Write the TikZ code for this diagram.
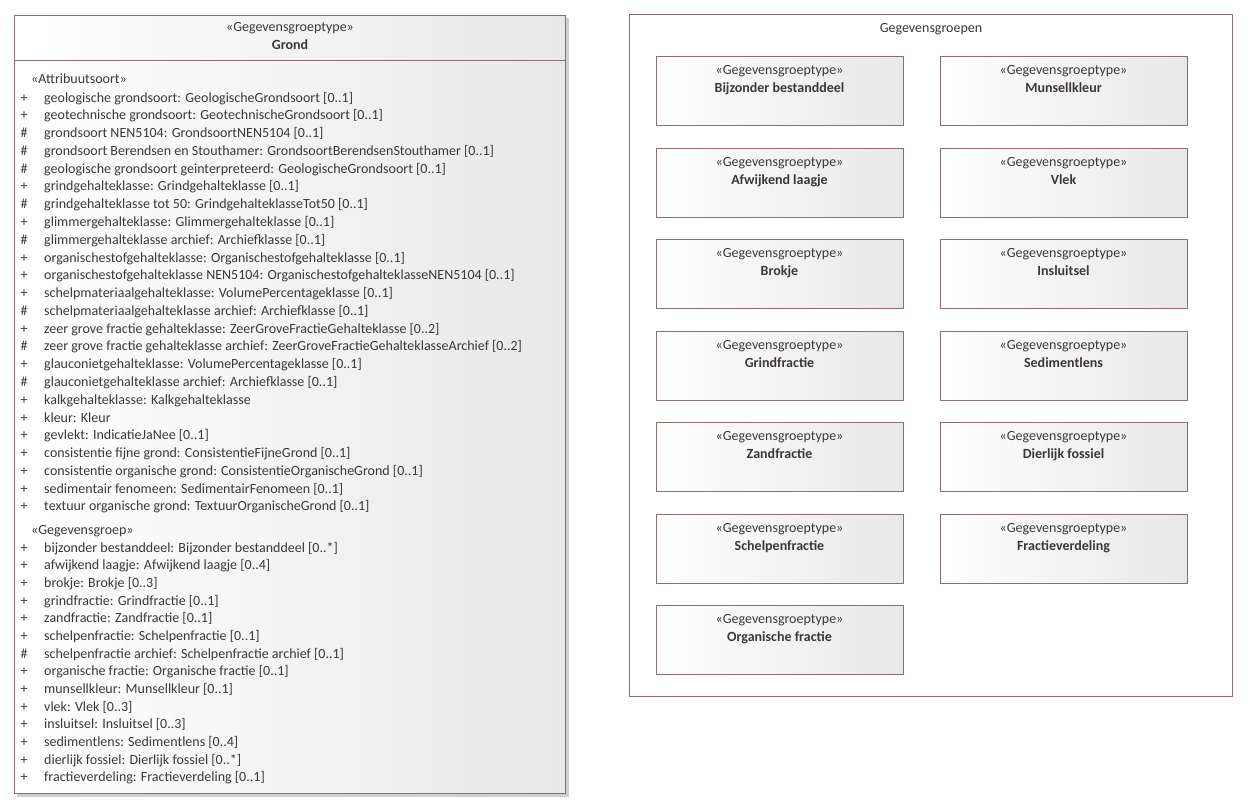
\documentclass[tikz,border=0pt]{standalone}
\usepackage{fontspec}
\setmainfont{Carlito}
\usetikzlibrary{backgrounds}
\definecolor{bord}{RGB}{140,112,112}
\definecolor{txt}{RGB}{62,55,55}
\definecolor{shd}{RGB}{208,208,208}
\tikzset{
  umlbox/.style={draw=bord, line width=0.9pt, inner sep=0pt, left color=white, right color=black!9},
  framebox/.style={draw=bord, line width=0.9pt, inner sep=0pt, fill=white},
  lbl/.style={inner sep=0pt, text=txt, font=\fontsize{14}{17}\selectfont, text height=10pt, text depth=3pt, yshift=-1.5pt},
  shadowof/.style={fill=shd},
}
\begin{document}
\begin{tikzpicture}[x=1pt,y=-1pt]
\useasboundingbox (0,0) rectangle (1250,811);
% ---------- Grond class ----------
\node[umlbox, anchor=north west, minimum width=551pt, minimum height=778pt] (grond) at (14,15) {};
\draw[bord, line width=0.9pt] (grond.west |- 0,60.5) coordinate (sepL) -- (grond.east |- 0,60.5) coordinate (sepR);
\node[lbl] (grondst) at (290,26) {«Gegevensgroeptype»};
\node[lbl] (grondnm) at (290,44) {\textbf{Grond}};
\node[lbl, anchor=west] (attrst) at (31,78) {«Attribuutsoort»};
\foreach \m/\t [count=\i] in {
 +/{geologische grondsoort: GeologischeGrondsoort [0..1]},
 +/{geotechnische grondsoort: GeotechnischeGrondsoort [0..1]},
 \#/{grondsoort NEN5104: GrondsoortNEN5104 [0..1]},
 \#/{grondsoort Berendsen en Stouthamer: GrondsoortBerendsenStouthamer [0..1]},
 \#/{geologische grondsoort geinterpreteerd: GeologischeGrondsoort [0..1]},
 +/{grindgehalteklasse: Grindgehalteklasse [0..1]},
 \#/{grindgehalteklasse tot 50: GrindgehalteklasseTot50 [0..1]},
 +/{glimmergehalteklasse: Glimmergehalteklasse [0..1]},
 \#/{glimmergehalteklasse archief: Archiefklasse [0..1]},
 +/{organischestofgehalteklasse: Organischestofgehalteklasse [0..1]},
 +/{organischestofgehalteklasse NEN5104: OrganischestofgehalteklasseNEN5104 [0..1]},
 +/{schelpmateriaalgehalteklasse: VolumePercentageklasse [0..1]},
 \#/{schelpmateriaalgehalteklasse archief: Archiefklasse [0..1]},
 +/{zeer grove fractie gehalteklasse: ZeerGroveFractieGehalteklasse [0..2]},
 \#/{zeer grove fractie gehalteklasse archief: ZeerGroveFractieGehalteklasseArchief [0..2]},
 +/{glauconietgehalteklasse: VolumePercentageklasse [0..1]},
 \#/{glauconietgehalteklasse archief: Archiefklasse [0..1]},
 +/{kalkgehalteklasse: Kalkgehalteklasse},
 +/{kleur: Kleur},
 +/{gevlekt: IndicatieJaNee [0..1]},
 +/{consistentie fijne grond: ConsistentieFijneGrond [0..1]},
 +/{consistentie organische grond: ConsistentieOrganischeGrond [0..1]},
 +/{sedimentair fenomeen: SedimentairFenomeen [0..1]},
 +/{textuur organische grond: TextuurOrganischeGrond [0..1]}} {
  \node[lbl] (am\i) at ({24},{97+17.78*(\i-1)}) {\m};
  \node[lbl, anchor=west] (at\i) at ({44},{97+17.78*(\i-1)}) {\t};
}
\node[lbl, anchor=west] (grpst) at (31,529) {«Gegevensgroep»};
\foreach \m/\t [count=\i] in {
 +/{bijzonder bestanddeel: Bijzonder bestanddeel [0..*]},
 +/{afwijkend laagje: Afwijkend laagje [0..4]},
 +/{brokje: Brokje [0..3]},
 +/{grindfractie: Grindfractie [0..1]},
 +/{zandfractie: Zandfractie [0..1]},
 +/{schelpenfractie: Schelpenfractie [0..1]},
 \#/{schelpenfractie archief: Schelpenfractie archief [0..1]},
 +/{organische fractie: Organische fractie [0..1]},
 +/{munsellkleur: Munsellkleur [0..1]},
 +/{vlek: Vlek [0..3]},
 +/{insluitsel: Insluitsel [0..3]},
 +/{sedimentlens: Sedimentlens [0..4]},
 +/{dierlijk fossiel: Dierlijk fossiel [0..*]},
 +/{fractieverdeling: Fractieverdeling [0..1]}} {
  \node[lbl] (gm\i) at ({24},{547+17.69*(\i-1)}) {\m};
  \node[lbl, anchor=west] (gt\i) at ({44},{547+17.69*(\i-1)}) {\t};
}
% ---------- Gegevensgroepen frame ----------
\node[framebox, anchor=north west, minimum width=603pt, minimum height=682pt] (frame) at (629,14) {};
\node[lbl] (frametitle) at (931,27) {Gegevensgroepen};
\foreach \n/\y [count=\i] in {{Bijzonder bestanddeel}/56, {Afwijkend laagje}/148, Brokje/239,
  Grindfractie/331, Zandfractie/422, Schelpenfractie/514, {Organische fractie}/605} {
  \node[umlbox, anchor=north west, minimum width=247pt, minimum height=69pt] (gl\i) at (656,\y) {};
  \node[lbl] (gls\i) at ({779.5},{\y+13}) {«Gegevensgroeptype»};
  \node[lbl] (gln\i) at ({779.5},{\y+31}) {\textbf{\n}};
  \begin{scope}[on background layer]
    \fill[shadowof] ([xshift=3pt,yshift=-3pt]gl\i.north west) rectangle ([xshift=3pt,yshift=-3pt]gl\i.south east);
  \end{scope}
}
\foreach \n/\y [count=\i] in {Munsellkleur/56, Vlek/148, Insluitsel/239,
  Sedimentlens/331, {Dierlijk fossiel}/422, Fractieverdeling/514} {
  \node[umlbox, anchor=north west, minimum width=247pt, minimum height=69pt] (gr\i) at (940,\y) {};
  \node[lbl] (grs\i) at ({1063.5},{\y+13}) {«Gegevensgroeptype»};
  \node[lbl] (grn\i) at ({1063.5},{\y+31}) {\textbf{\n}};
  \begin{scope}[on background layer]
    \fill[shadowof] ([xshift=3pt,yshift=-3pt]gr\i.north west) rectangle ([xshift=3pt,yshift=-3pt]gr\i.south east);
  \end{scope}
}
\begin{scope}[on background layer]
  \fill[shadowof] ([xshift=3pt,yshift=-3pt]grond.north west) rectangle ([xshift=3pt,yshift=-3pt]grond.south east);
\end{scope}
\end{tikzpicture}
\end{document}
